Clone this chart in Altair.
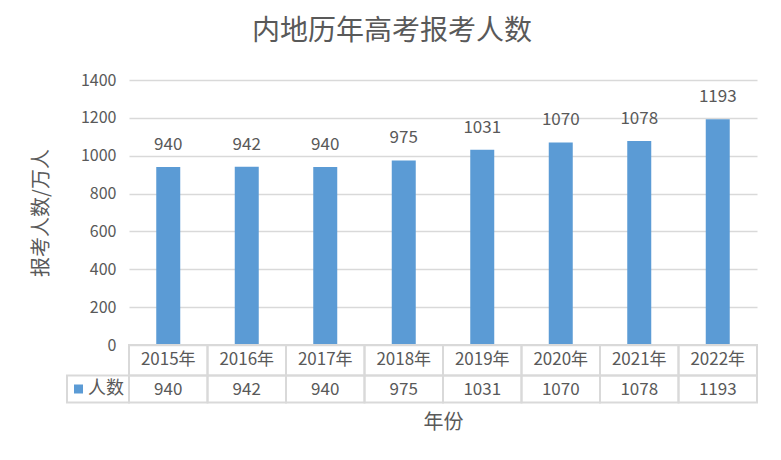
import altair as alt
import pandas as pd

# ---- data ----
years = ["2015年", "2016年", "2017年", "2018年", "2019年", "2020年", "2021年", "2022年"]
counts = [940, 942, 940, 975, 1031, 1070, 1078, 1193]
series_name = "人数"
chart_title = "内地历年高考报考人数"
y_title = "报考人数/万人"
x_title = "年份"
y_ticks = [0, 200, 400, 600, 800, 1000, 1200, 1400]

FONT = "Noto Sans CJK SC"
TXT = "#595959"
GRID = "#D9D9D9"
BAR = "#5B9BD5"

df = pd.DataFrame({"year": years, "count": counts})
legend_df = pd.DataFrame({"series": [series_name]})

PLOT_H = 265      # height of the bar area
ROW1 = (265, 295.5)
ROW2 = (295.5, 322.5)

x_enc = alt.X(
    "year:N",
    sort=years,
    scale=alt.Scale(paddingInner=0, paddingOuter=0),
    axis=alt.Axis(
        labels=False, ticks=False, domain=False, title=x_title,
        titleFont=FONT, titleFontSize=20, titleFontWeight="normal",
        titleColor=TXT, titlePadding=9,
    ),
)
y_enc = alt.Y(
    "count:Q",
    scale=alt.Scale(domain=[0, 1400], range=[PLOT_H, 0], nice=False),
    axis=alt.Axis(
        values=y_ticks, format="d", grid=True, gridColor=GRID, gridWidth=1.5,
        ticks=False, domain=False, labelPadding=13,
        labelFont=FONT, labelFontSize=16, labelColor=TXT,
        title=y_title, titleFont=FONT, titleFontSize=20, titleFontWeight="normal",
        titleColor=TXT, titleX=-88, titleY=PLOT_H / 2, titleAngle=270,
        titleBaseline="middle", titleAlign="center",
    ),
)

base = alt.Chart(df)

bars = base.mark_bar(size=24, color=BAR).encode(x=x_enc, y=y_enc)
labels = base.mark_text(dy=-22, font=FONT, fontSize=17, color=TXT, baseline="middle").encode(
    x=alt.X("year:N", sort=years), y=alt.Y("count:Q"), text="count:Q"
)

row1 = base.mark_rect(fillOpacity=0, stroke=GRID, strokeWidth=2).encode(
    x=alt.X("year:N", sort=years), y=alt.value(ROW1[0]), y2=alt.value(ROW1[1])
)
row2 = base.mark_rect(fillOpacity=0, stroke=GRID, strokeWidth=2).encode(
    x=alt.X("year:N", sort=years), y=alt.value(ROW2[0]), y2=alt.value(ROW2[1])
)
year_text = base.mark_text(font=FONT, fontSize=17, color=TXT, baseline="middle").encode(
    x=alt.X("year:N", sort=years), y=alt.value((ROW1[0] + ROW1[1]) / 2), text="year:N"
)
val_text = base.mark_text(font=FONT, fontSize=17, color=TXT, baseline="middle").encode(
    x=alt.X("year:N", sort=years), y=alt.value((ROW2[0] + ROW2[1]) / 2 + 0.5), text="count:Q"
)

leg = alt.Chart(legend_df)
leg_cell = leg.mark_rect(fillOpacity=0, stroke=GRID, strokeWidth=2).encode(
    x=alt.value(-62), x2=alt.value(0), y=alt.value(ROW2[0]), y2=alt.value(ROW2[1])
)
leg_sq = leg.mark_square(size=81, color=BAR, filled=True, opacity=1).encode(
    x=alt.value(-50.5), y=alt.value((ROW2[0] + ROW2[1]) / 2)
)
leg_txt = leg.mark_text(font=FONT, fontSize=18, color=TXT, align="left", baseline="middle").encode(
    x=alt.value(-41), y=alt.value((ROW2[0] + ROW2[1]) / 2), text="series:N"
)

chart = alt.layer(
    bars, labels, row1, row2, year_text, val_text, leg_cell, leg_sq, leg_txt
).properties(
    width=628,
    height=323,
    autosize="none",
    padding={"left": 121, "top": 72, "right": 16, "bottom": 49},
    title=alt.Title(
        chart_title, font=FONT, fontSize=28, fontWeight="normal", color=TXT,
        anchor="middle", dx=-51, offset=26,
    ),
    background="white",
).configure_view(strokeWidth=0)

chart.save("out.html", embed_options={"renderer": "svg", "actions": False})
